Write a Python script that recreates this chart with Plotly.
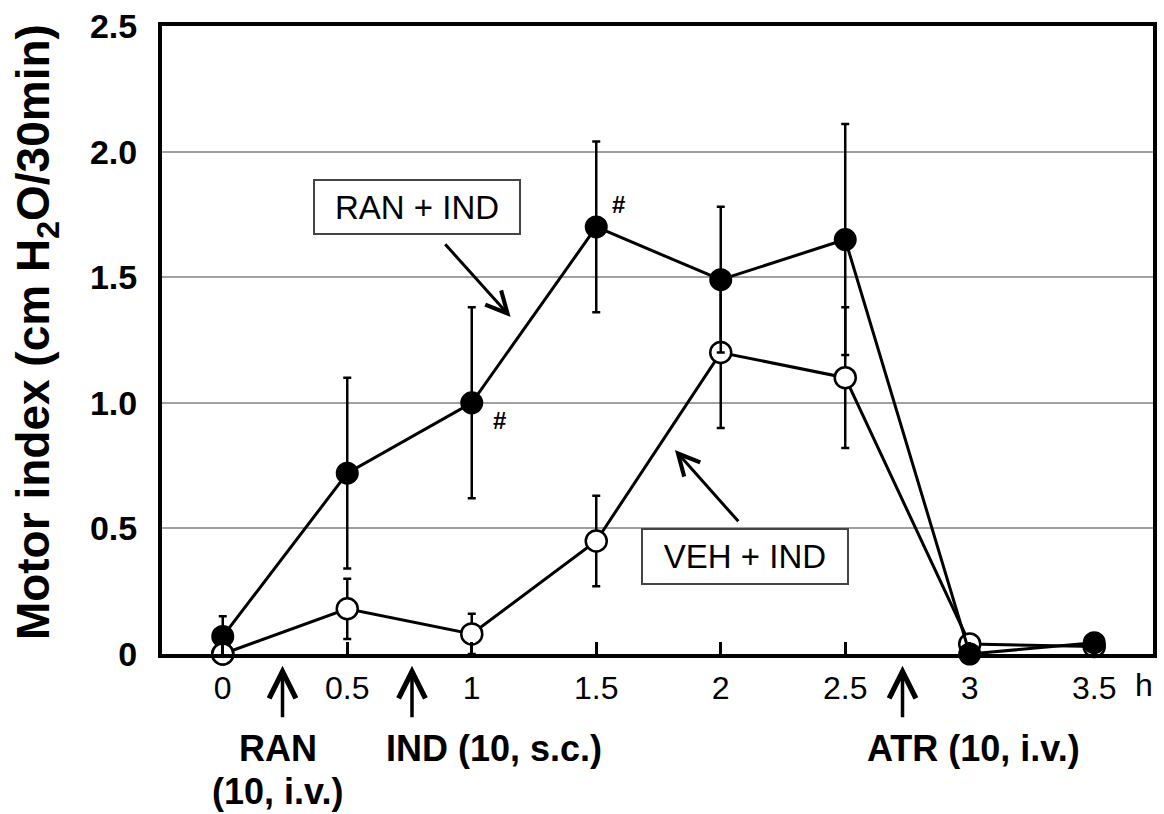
import plotly.graph_objects as go

# ---- data ----
time_h = [0, 0.5, 1, 1.5, 2, 2.5, 3, 3.5]
ran_ind_mean = [0.07, 0.72, 1.00, 1.70, 1.49, 1.65, 0.0, 0.045]
ran_ind_sem = [0.08, 0.38, 0.38, 0.34, 0.29, 0.46, 0.0, 0.0]
veh_ind_mean = [0.00, 0.18, 0.08, 0.45, 1.20, 1.10, 0.04, 0.03]
veh_ind_sem = [0.0, 0.12, 0.08, 0.18, 0.30, 0.28, 0.0, 0.0]

x_tick_vals = [0, 0.5, 1, 1.5, 2, 2.5, 3, 3.5]
x_tick_text = ["0", "0.5", "1", "1.5", "2", "2.5", "3", "3.5"]
y_tick_vals = [0, 0.5, 1.0, 1.5, 2.0, 2.5]
y_tick_text = ["0", "0.5", "1.0", "1.5", "2.0", "2.5"]

# dosing times (h)
dose_times = [0.24, 0.76, 2.73]
sig_points = [(1.11, 0.93), (1.59, 1.79)]

FONT = "Liberation Sans, Arial, sans-serif"

W, H = 1164, 814
L, R, T, B = 162, 7, 17, 160
PW, PH = W - L - R, H - T - B


def px(X):
    return (X - L) / PW


def py(Y):
    return (H - B - Y) / PH


open_marker = dict(symbol="circle", size=21, color="white", line=dict(color="black", width=2.5))
filled_marker = dict(symbol="circle", size=21, color="black", line=dict(color="black", width=2))

fig = go.Figure()

fig.add_trace(go.Scatter(
    x=time_h, y=veh_ind_mean, mode="lines+markers", name="VEH + IND",
    line=dict(color="black", width=3), marker=open_marker,
    error_y=dict(type="data", array=veh_ind_sem, visible=True, color="black", thickness=2.5, width=4),
    cliponaxis=False, showlegend=False,
))
fig.add_trace(go.Scatter(
    x=time_h, y=ran_ind_mean, mode="lines+markers", name="RAN + IND",
    line=dict(color="black", width=3), marker=filled_marker,
    error_y=dict(type="data", array=ran_ind_sem, visible=True, color="black", thickness=2.5, width=4),
    cliponaxis=False, showlegend=False,
))
# baseline open marker sits on top of the filled one at t = 0
fig.add_trace(go.Scatter(
    x=time_h[:1], y=veh_ind_mean[:1], mode="markers", marker=open_marker,
    cliponaxis=False, showlegend=False, hoverinfo="skip",
))

ann = []
# significance marks
for sx, sy in sig_points:
    ann.append(dict(x=sx, y=sy, xref="x", yref="y", text="<b>#</b>", showarrow=False,
                    xanchor="center", yanchor="middle",
                    font=dict(family=FONT, size=24, color="black")))

# labelled boxes
ann.append(dict(x=0.78, y=1.78, xref="x", yref="y", text="RAN + IND", showarrow=False,
                xanchor="center", yanchor="middle",
                font=dict(family=FONT, size=33, color="black"), width=204, height=52,
                bordercolor="#444", borderwidth=2, borderpad=0, bgcolor="white"))
ann.append(dict(x=2.096, y=0.387, xref="x", yref="y", text="VEH + IND", showarrow=False,
                xanchor="center", yanchor="middle",
                font=dict(family=FONT, size=33, color="black"), width=204, height=53,
                bordercolor="#444", borderwidth=2, borderpad=0, bgcolor="white"))
# pointer arrows
ann.append(dict(x=1.156, y=1.342, ax=0.888, ay=1.637, xref="x", yref="y", axref="x", ayref="y",
                text="", showarrow=True, arrowhead=5, arrowsize=1.4, arrowwidth=3, arrowcolor="black"))
ann.append(dict(x=1.816, y=0.812, ax=2.076, ay=0.522, xref="x", yref="y", axref="x", ayref="y",
                text="", showarrow=True, arrowhead=5, arrowsize=1.4, arrowwidth=3, arrowcolor="black"))

# dosing arrows below axis
for t in dose_times:
    ann.append(dict(x=t, y=py(666), xref="x", yref="paper", ax=0, ay=53, text="",
                    showarrow=True, arrowhead=5, arrowsize=1.5, arrowwidth=3.5, arrowcolor="black"))

bold = dict(family=FONT, size=36, color="black")
labels = [
    (278, 750, "<b>RAN</b>"),
    (278, 793, "<b>(10, i.v.)</b>"),
    (495, 750, "<b>IND (10, s.c.)</b>"),
    (977, 750, "<b>ATR (10, i.v.)</b>"),
]
for lx, ly, lt in labels:
    ann.append(dict(x=px(lx), y=py(ly), xref="paper", yref="paper", text=lt,
                    xanchor="center", yanchor="middle", showarrow=False, font=bold))
# unit label
ann.append(dict(x=px(1148), y=py(685), xref="paper", yref="paper", text="h",
                xanchor="center", yanchor="middle",
                showarrow=False, font=dict(family=FONT, size=32, color="black")))
# y title
ann.append(dict(x=px(36), y=py(328), xref="paper", yref="paper",
                text="<b>Motor index (cm H<sub>2</sub>O/30min)</b>", textangle=-90,
                xanchor="center", yanchor="middle",
                showarrow=False, font=dict(family=FONT, size=46, color="black")))

fig.update_layout(
    width=W, height=H,
    margin=dict(l=L, r=R, t=T, b=B),
    paper_bgcolor="white", plot_bgcolor="white",
    annotations=ann,
    xaxis=dict(range=[-0.244, 3.736], tickvals=x_tick_vals, ticktext=x_tick_text,
               showgrid=False, zeroline=False, showline=True, linecolor="black", linewidth=4,
               mirror=True, ticks="inside", ticklen=12, tickwidth=2.5, tickcolor="black",
               ticklabelstandoff=3,
               tickfont=dict(family=FONT, size=32, color="black")),
    yaxis=dict(range=[0, 2.5], tickvals=y_tick_vals, ticktext=y_tick_text,
               showgrid=True, gridcolor="#a0a0a0", gridwidth=2, zeroline=False,
               showline=True, linecolor="black", linewidth=4, mirror=True, ticks="",
               ticklabelstandoff=14, ticklabeloverflow="allow",
               tickfont=dict(family=FONT, size=34, color="black", weight="bold")),
)

fig.write_html("out.html")
